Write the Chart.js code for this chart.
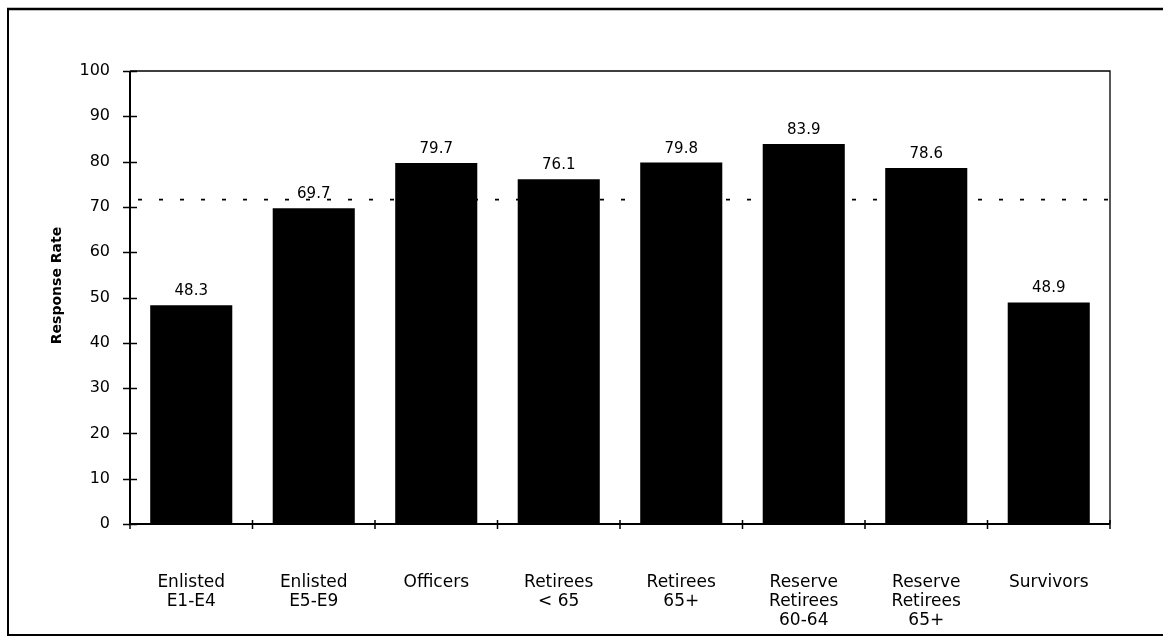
<!DOCTYPE html>
<html>
<head>
<meta charset="utf-8">
<script src="https://cdn.jsdelivr.net/npm/chart.js@4.4.1/dist/chart.umd.min.js"></script>
<style>
  html, body { margin: 0; padding: 0; background: #fff; }
  canvas { display: block; }
</style>
</head>
<body>
<canvas id="c" width="1163" height="637"></canvas>
<script>
// Response rate by population group
const categories = [
  ['Enlisted', 'E1-E4'],
  ['Enlisted', 'E5-E9'],
  ['Officers'],
  ['Retirees', '< 65'],
  ['Retirees', '65+'],
  ['Reserve', 'Retirees', '60-64'],
  ['Reserve', 'Retirees', '65+'],
  ['Survivors']
];
const responseRates = [48.3, 69.7, 79.7, 76.1, 79.8, 83.9, 78.6, 48.9];
const overallRate = 71.6;
const yTicks = [0, 10, 20, 30, 40, 50, 60, 70, 80, 90, 100];

const FONT = '"DejaVu Sans", "Liberation Sans", Arial, sans-serif';

// White page, outer frame, plot box, axis tick marks, dotted overall line
const framePlugin = {
  id: 'frame',
  beforeDraw(chart) {
    const ctx = chart.ctx;
    ctx.save();
    ctx.fillStyle = '#fff';
    ctx.fillRect(0, 0, chart.width, chart.height);
    ctx.strokeStyle = '#000';
    // outer frame
    ctx.lineWidth = 2.5;
    ctx.beginPath();
    ctx.moveTo(7, 9); ctx.lineTo(chart.width, 9);
    ctx.stroke();
    ctx.lineWidth = 2;
    ctx.beginPath();
    ctx.moveTo(8, 9); ctx.lineTo(8, 635); ctx.lineTo(chart.width, 635);
    ctx.stroke();
    ctx.restore();
  },
  beforeDatasetsDraw(chart) {
    const ctx = chart.ctx;
    const a = chart.chartArea;
    const y = chart.scales.y;
    ctx.save();
    ctx.strokeStyle = '#000';
    ctx.lineWidth = 1.6;
    ctx.setLineDash([4, 17]);
    const py = y.getPixelForValue(overallRate);
    ctx.beginPath();
    ctx.moveTo(a.left + 8, py); ctx.lineTo(a.right, py);
    ctx.stroke();
    ctx.restore();
  },
  afterDatasetsDraw(chart) {
    const ctx = chart.ctx;
    const a = chart.chartArea;
    const x = chart.scales.x;
    const y = chart.scales.y;
    ctx.save();
    ctx.strokeStyle = '#000';
    // plot box top and right
    ctx.lineWidth = 1.3;
    ctx.beginPath();
    ctx.moveTo(a.left, a.top); ctx.lineTo(a.right, a.top); ctx.lineTo(a.right, a.bottom);
    ctx.stroke();
    // axes
    ctx.lineWidth = 2;
    ctx.beginPath();
    ctx.moveTo(a.left, a.top); ctx.lineTo(a.left, a.bottom); ctx.lineTo(a.right, a.bottom);
    ctx.stroke();
    // y tick marks crossing the axis
    ctx.lineWidth = 1.5;
    yTicks.forEach(v => {
      const p = Math.round(y.getPixelForValue(v)) + 0.5;
      ctx.beginPath();
      ctx.moveTo(a.left - 7, p); ctx.lineTo(a.left + 7, p);
      ctx.stroke();
    });
    // x tick marks at category boundaries
    const n = categories.length;
    for (let i = 0; i <= n; i++) {
      const px = x.getPixelForValue(i - 0.5);
      ctx.beginPath();
      ctx.moveTo(px, a.bottom - 4); ctx.lineTo(px, a.bottom + 5);
      ctx.stroke();
    }
    // value labels above bars
    ctx.fillStyle = '#000';
    ctx.font = '15px ' + FONT;
    ctx.textAlign = 'center';
    ctx.textBaseline = 'alphabetic';
    const meta = chart.getDatasetMeta(0);
    meta.data.forEach((bar, i) => {
      ctx.fillText(responseRates[i].toFixed(1), bar.x, bar.y - 10);
    });
    // y-axis title
    ctx.font = 'bold 14px ' + FONT;
    ctx.translate(57, (a.top + a.bottom) / 2 - 12);
    ctx.rotate(-Math.PI / 2);
    ctx.textBaseline = 'middle';
    ctx.fillText('Response Rate', 0, 0);
    ctx.restore();
  }
};

new Chart(document.getElementById('c'), {
  type: 'bar',
  data: {
    labels: categories,
    datasets: [{
      data: responseRates,
      backgroundColor: '#000',
      borderWidth: 0,
      barPercentage: 0.67,
      categoryPercentage: 1.0
    }]
  },
  options: {
    responsive: false,
    animation: false,
    devicePixelRatio: 1,
    layout: { padding: { left: 0, top: 71, right: 53, bottom: 0 } },
    plugins: {
      legend: { display: false },
      tooltip: { enabled: false }
    },
    scales: {
      x: {
        grid: { display: false, drawTicks: false },
        border: { display: false },
        ticks: {
          color: '#000',
          font: { family: FONT, size: 17, lineHeight: 1.11 },
          autoSkip: false,
          maxRotation: 0,
          minRotation: 0,
          padding: 49
        },
        afterFit(scale) { scale.height = 113; }
      },
      y: {
        min: 0,
        max: 100,
        grid: { display: false, drawTicks: false },
        border: { display: false },
        ticks: {
          color: '#000',
          stepSize: 10,
          font: { family: FONT, size: 16 },
          padding: 20
        },
        afterFit(scale) { scale.width = 130; }
      }
    }
  },
  plugins: [framePlugin]
});
</script>
</body>
</html>
